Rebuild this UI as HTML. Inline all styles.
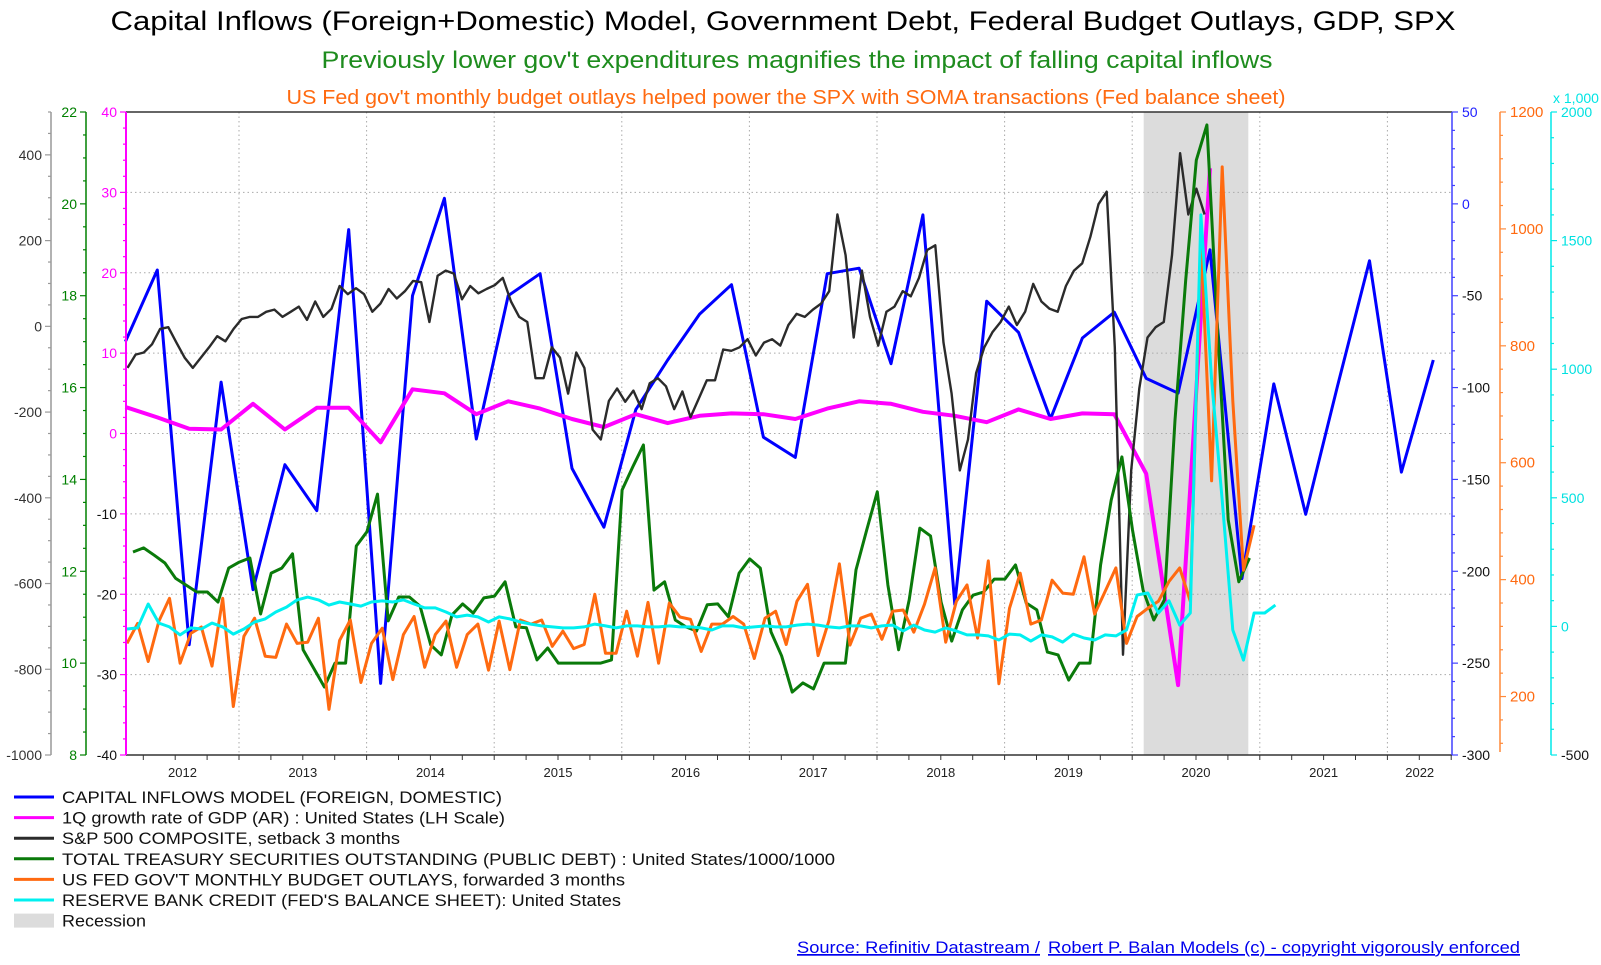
<!DOCTYPE html>
<html>
<head>
<meta charset="utf-8">
<style>
  html,body{margin:0;padding:0;background:#fff;}
  svg{display:block;font-family:"Liberation Sans",Arial,sans-serif;}
</style>
</head>
<body>
<svg id="chart" xmlns="http://www.w3.org/2000/svg" width="1601" height="965" viewBox="0 0 1601 965">
  <rect x="0" y="0" width="1601" height="965" fill="#fff"/>
  <text x="783" y="30" text-anchor="middle" font-size="27" fill="#000" textLength="1345" lengthAdjust="spacingAndGlyphs">Capital Inflows (Foreign+Domestic) Model, Government Debt, Federal Budget Outlays, GDP, SPX</text>
  <text x="797" y="68" text-anchor="middle" font-size="24" fill="#1e8c1e" textLength="951" lengthAdjust="spacingAndGlyphs">Previously lower gov't expenditures magnifies the impact of falling capital inflows</text>
  <text x="786" y="104" text-anchor="middle" font-size="20" fill="#ff6a10" textLength="999" lengthAdjust="spacingAndGlyphs">US Fed gov't monthly budget outlays helped power the SPX with SOMA transactions (Fed balance sheet)</text>
  <text x="1553" y="103" font-size="14" fill="#00e5e5">x 1,000</text>
  <g id="grid"></g>
  <g id="plot"></g>
  <g id="axes"></g>
  <g id="legend"></g>
  <text x="797" y="953" font-size="17" fill="#0000ee" text-decoration="underline" textLength="243" lengthAdjust="spacingAndGlyphs">Source: Refinitiv Datastream /</text>
  <text x="1048" y="953" font-size="17" fill="#0000ee" text-decoration="underline" textLength="472" lengthAdjust="spacingAndGlyphs">Robert P. Balan Models (c) - copyright vigorously enforced</text>
</svg>
<script>
// ---- data ----
const blueValues=[-75,-36,-240,-97,-210,-142,-167,-14,-261,-50,3,-128,-50,-38,-144,-176,-112,-85,-60,-44,-127,-138,-38,-35,-87,-6,-218,-53,-70,-117,-73,-59,-95,-103,-25,-204,-98,-169,-99,-31,-146,-85];
const gdpValues=[3.3,2.0,0.6,0.5,3.7,0.5,3.2,3.2,-1.1,5.5,5.0,2.4,4.0,3.1,1.8,0.8,2.4,1.3,2.2,2.5,2.4,1.8,3.1,4.0,3.7,2.7,2.2,1.4,3.0,1.8,2.5,2.4,-5.0,-31.3,33.0];
const spxValues=[-97,-66,-61,-42,-6,-2,-38,-73,-97,-73,-49,-23,-35,-6,17,22,22,34,39,22,34,46,15,58,22,41,94,75,89,75,34,53,87,65,82,106,103,10,118,130,123,63,94,77,87,96,113,58,22,10,-121,-121,-49,-73,-157,-61,-97,-241,-264,-174,-145,-176,-150,-193,-133,-121,-140,-193,-152,-212,-169,-126,-126,-54,-57,-49,-30,-68,-38,-30,-45,3,29,22,39,53,82,261,166,-26,130,22,-45,34,46,82,70,113,178,189,-38,-157,-336,-264,-109,-49,-14,10,46,3,34,99,58,41,34,94,130,147,209,285,314,-49,-766,-336,-145,-26,-2,10,166,404,261,321,261];
const debtValues=[12.42,12.51,12.35,12.18,11.85,11.70,11.55,11.55,11.33,12.07,12.20,12.29,11.07,11.96,12.07,12.38,10.29,9.89,9.48,10.00,10.00,12.55,12.86,13.68,10.92,11.44,11.44,11.24,10.40,10.18,11.05,11.29,11.09,11.42,11.46,11.77,10.79,10.77,10.07,10.33,10.00,10.00,10.00,10.00,10.00,10.07,13.77,14.27,14.75,11.59,11.77,10.94,10.79,10.70,11.27,11.29,11.01,11.96,12.27,12.07,10.68,10.16,9.37,9.57,9.44,10.00,10.00,10.00,12.03,12.90,13.73,11.70,10.29,11.38,12.94,12.77,11.33,10.48,11.16,11.48,11.55,11.83,11.83,12.14,11.31,11.16,10.24,10.18,9.63,10.00,10.00,12.14,13.55,14.49,12.90,11.59,10.94,11.38,15.29,18.34,20.95,21.72,17.25,13.12,11.77,12.29];
const outlayValues=[291,325,260,329,368,257,308,319,252,368,183,303,334,269,267,324,291,293,334,178,296,331,224,291,317,229,306,337,250,306,329,250,306,324,245,329,246,331,324,331,286,312,282,289,375,274,274,346,269,361,257,360,336,332,277,324,324,337,324,265,334,346,289,363,392,270,329,427,288,334,341,298,346,348,310,358,420,293,363,391,300,432,222,351,411,324,331,399,377,375,439,341,380,420,291,337,351,363,397,420,363,980,569,1106,706,416,493];
const rbcValues=[-10,-6,87,13,-2,-33,-6,-10,13,-2,-30,-10,17,29,56,75,103,114,103,83,95,87,79,95,99,95,103,87,72,72,56,37,44,37,17,37,29,17,9,2,-2,-6,-6,-2,9,2,-6,2,2,-2,-2,2,-2,-2,-6,-14,2,2,-6,-2,2,-2,-2,5,9,5,-2,-6,2,2,-6,2,5,-18,5,-14,-22,-6,-18,-33,-33,-37,-53,-30,-33,-57,-33,-41,-61,-30,-45,-53,-33,-37,-14,122,130,52,99,5,52,1600,958,491,-14,-131,52,52,83];
const quarterStart=2012.11, quarterStep=0.25;
const spxStart=2012.126, spxStep=0.06395;
const debtStart=2012.169, monthStart=2012.122, monthStep=1/12;
const recession=[2020.09,2020.91];
const yearTicks=[2013,2014,2015,2016,2017,2018,2019,2020,2021,2022];
const yearLabels=[2012,2013,2014,2015,2016,2017,2018,2019,2020,2021,2022];

// ---- geometry ----
const NS="http://www.w3.org/2000/svg";
const L=126,R=1452,T=112,B=755;
const tMin=2012+(L-111.4)/127.6, tMax=2012+(R-111.4)/127.6;
function X(t){return 111.4+(t-2012)*127.6;}
function mkY(min,max){return v=>B-(v-min)/(max-min)*(B-T);}
const yGray=mkY(-1000,500), yGreen=mkY(8,22), yPink=mkY(-40,40), yBlue=mkY(-300,50), yOrange=mkY(100,1200), yCyan=mkY(-500,2000);
const svg=document.getElementById('chart');
const grid=document.getElementById('grid'), plot=document.getElementById('plot'), axesG=document.getElementById('axes'), legendG=document.getElementById('legend');
function mk(tag,attrs,parent){const e=document.createElementNS(NS,tag);for(const k in attrs)e.setAttribute(k,attrs[k]);parent.appendChild(e);return e;}

// recession band
const rec=mk('rect',{x:X(recession[0]),y:T,width:X(recession[1])-X(recession[0]),height:B-T,fill:'#dcdcdc'},grid);



// gridlines
for(let v=-30;v<=30;v+=10){
  const g=mk('line',{x1:L,x2:R,y1:yPink(v),y2:yPink(v),stroke:'#aaa','stroke-width':1,'stroke-dasharray':'1.5,3'},grid);
  
  
}
yearTicks.forEach(t=>{
  const g=mk('line',{x1:X(t),x2:X(t),y1:T,y2:B,stroke:'#aaa','stroke-width':1,'stroke-dasharray':'1.5,3'},grid);
  
  
});

// series
function series(vals,start,step,yf,color,w,name){
  const pts=vals.map((v,i)=>X(start+i*step).toFixed(1)+','+yf(v).toFixed(1)).join(' ');
  const p=mk('polyline',{points:pts,fill:'none',stroke:color,'stroke-width':w,'stroke-linejoin':'round'},plot);
  
  
}
series(blueValues,quarterStart,quarterStep,yBlue,'#0000ff',3,'capital-inflows-line');
series(gdpValues,quarterStart,quarterStep,yPink,'#ff00ff',4,'gdp-growth-line');
series(spxValues,spxStart,spxStep,yGray,'#2b2b2b',2.4,'spx-line');
series(debtValues,debtStart,monthStep,yGreen,'#0a7a0a',3,'treasury-debt-line');
series(outlayValues,monthStart,monthStep,yOrange,'#ff6a10',3,'budget-outlays-line');
series(rbcValues,monthStart,monthStep,yCyan,'#00f0f0',3,'reserve-bank-credit-line');

// frame
let f=mk('line',{x1:L,x2:R,y1:T,y2:T,stroke:'#333','stroke-width':1.5},axesG);


f=mk('line',{x1:L,x2:R,y1:B,y2:B,stroke:'#333','stroke-width':1.5},axesG);


for(let q=Math.ceil(tMin*4);q<=Math.floor(tMax*4);q++){
  const tk=mk('line',{x1:X(q/4),x2:X(q/4),y1:B,y2:B+5,stroke:'#333','stroke-width':1},axesG);
  
  
}
yearLabels.forEach(yr=>{
  const a=Math.max(X(yr),L), b=Math.min(X(yr+1),R);
  const tx=mk('text',{x:(a+b)/2,y:777,'text-anchor':'middle','font-size':13,fill:'#222'},axesG);
  tx.textContent=yr;
  
  
});

// y axes
const axisDefs=[
  {id:'gray',x:51,min:-1000,max:500,major:200,minor:50,line:'#999',pos:'#333',neg:'#333',side:-1},
  {id:'green',x:86,min:8,max:22,major:2,minor:0.5,line:'#008000',pos:'#008000',neg:'#008000',side:-1},
  {id:'pink',x:126,min:-40,max:40,major:10,minor:2,line:'#ff00ff',pos:'#ff00ff',neg:'#111',side:-1},
  {id:'blue',x:1452,min:-300,max:50,major:50,minor:10,line:'#4040ff',pos:'#2020ff',neg:'#111',side:1},
  {id:'orange',x:1500,min:120,max:1200,major:200,minor:40,line:'#ff8a3a',pos:'#ff6a10',neg:'#ff6a10',side:1,first:200},
  {id:'cyan',x:1551,min:-500,max:2000,major:500,minor:100,line:'#00e8e8',pos:'#00e0e0',neg:'#111',side:1}
];
axisDefs.forEach(a=>{
  const yf=a.id==='orange'?yOrange:mkY(a.min,a.max);
  const ln=mk('line',{x1:a.x,x2:a.x,y1:T,y2:a.id==='orange'?B-3:B,stroke:a.line,'stroke-width':a.id==='pink'?2:1.5},axesG);
  
  
  const nMin=Math.round((a.max-a.min)/a.minor);
  for(let i=0;i<=nMin;i++){
    const v=a.min+i*a.minor, y=yf(v);
    const start=a.first!==undefined?a.first:a.min;
    const isMaj=Math.abs(((v-start)/a.major)-Math.round((v-start)/a.major))<1e-6 && v>=start;
    const len=isMaj?6:3;
    const tk=mk('line',{x1:a.x,x2:a.x+a.side*len,y1:y,y2:y,stroke:a.line,'stroke-width':1.2},axesG);
    
    
    if(isMaj){
      const lx=a.side<0?a.x-9:a.x+10;
      const tx=mk('text',{x:lx,y:y+5,'text-anchor':a.side<0?'end':'start','font-size':a.id==='orange'?15:14,fill:v<0?a.neg:a.pos},axesG);
      tx.textContent=(Math.round(v*100)/100).toString();
      
      
    }
  }
});

// legend
const legendNames=["CAPITAL INFLOWS MODEL (FOREIGN, DOMESTIC)","1Q growth rate of GDP (AR) : United States (LH Scale)","S&P 500 COMPOSITE, setback 3 months","TOTAL TREASURY SECURITIES OUTSTANDING (PUBLIC DEBT) : United States/1000/1000","US FED GOV'T MONTHLY BUDGET OUTLAYS, forwarded 3 months","RESERVE BANK CREDIT (FED'S BALANCE SHEET): United States","Recession"];
const legendWidths=[440,443,338,773,563,559,84];
const legendColors=['#0000ff','#ff00ff','#2b2b2b','#0a7a0a','#ff6a10','#00f0f0','#dcdcdc'];
legendNames.forEach((n,i)=>{
  const y=797+i*20.6;
  if(i<6){
    const s=mk('line',{x1:14,x2:54,y1:y,y2:y,stroke:legendColors[i],'stroke-width':3},legendG);
    
    
  } else {
    const s=mk('rect',{x:14,y:y-7,width:40,height:14,fill:legendColors[i]},legendG);
    
    
  }
  const t=mk('text',{x:62,y:y+6,'font-size':17,fill:'#111',textLength:legendWidths[i],lengthAdjust:'spacingAndGlyphs'},legendG);
  t.textContent=n;
  
  
});
</script>
</body>
</html>
